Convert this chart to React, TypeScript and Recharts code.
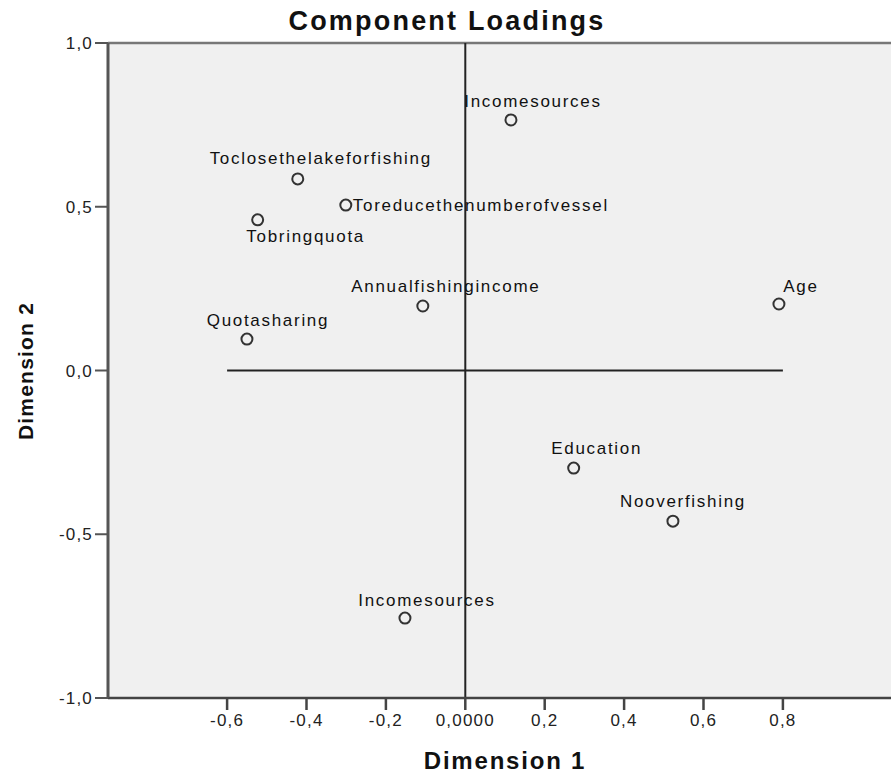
import React from 'react';
import { ScatterChart, Scatter, XAxis, YAxis, ReferenceLine, ReferenceArea } from 'recharts';

const variables = [
  'Incomesources',
  'Toclosethelakeforfishing',
  'Toreducethenumberofvessel',
  'Tobringquota',
  'Annualfishingincome',
  'Quotasharing',
  'Age',
  'Education',
  'Nooverfishing',
  'Incomesources',
];
const dimension1 = [0.115, -0.422, -0.301, -0.523, -0.107, -0.55, 0.79, 0.273, 0.523, -0.152];
const dimension2 = [0.765, 0.585, 0.505, 0.46, 0.197, 0.096, 0.203, -0.298, -0.46, -0.756];
const xTicks = [-0.6, -0.4, -0.2, 0, 0.2, 0.4, 0.6, 0.8];
const yTicks = [-1, -0.5, 0, 0.5, 1];

// label placement relative to each marker (styling only)
const labelPlacement = [
  { dx: 22, dy: -18, anchor: 'middle' },
  { dx: 23, dy: -20, anchor: 'middle' },
  { dx: 7, dy: 0, anchor: 'start' },
  { dx: 48, dy: 17, anchor: 'middle' },
  { dx: 23, dy: -19, anchor: 'middle' },
  { dx: 21, dy: -19, anchor: 'middle' },
  { dx: 22, dy: -18, anchor: 'middle' },
  { dx: 23, dy: -20, anchor: 'middle' },
  { dx: 10, dy: -20, anchor: 'middle' },
  { dx: 22, dy: -18, anchor: 'middle' },
];

const rows = variables.map((name, i) => ({
  name,
  x: dimension1[i],
  y: dimension2[i],
  place: labelPlacement[i],
}));

const FONT = "Arial, 'Liberation Sans', sans-serif";

const fmtX = (v: number) => (v === 0 ? '0,0000' : v.toFixed(1).replace('.', ','));
const fmtY = (v: number) => v.toFixed(1).replace('.', ',');

const PointShape = (props: any) => {
  const { cx, cy, payload } = props;
  if (cx == null || cy == null) return null;
  const p = payload.place;
  return (
    <g>
      <circle cx={cx} cy={cy} r={5.5} fill="none" stroke="#333" strokeWidth={2} />
      <text
        x={cx + p.dx}
        y={cy + p.dy}
        textAnchor={p.anchor}
        dominantBaseline="central"
        fontSize={17}
        fontFamily={FONT}
        letterSpacing={1.7}
        fill="#111"
      >
        {payload.name}
      </text>
    </g>
  );
};

export default function App() {
  return (
    <div style={{ position: 'absolute', left: 0, top: 0, width: 891, height: 773, overflow: 'hidden', background: '#fff' }}>
      <ScatterChart width={902} height={773} margin={{ top: 43, right: 0, bottom: 0, left: 0 }}>
        <ReferenceArea x1={-0.9} x2={1.1} y1={-1} y2={1} fill="#f0f0f0" fillOpacity={1} stroke="none" ifOverflow="visible" />
        <XAxis
          type="number"
          dataKey="x"
          domain={[-0.9, 1.1]}
          ticks={xTicks}
          tickFormatter={fmtX}
          allowDataOverflow
          height={75}
          tickSize={12}
          tickMargin={4}
          axisLine={{ stroke: '#444', strokeWidth: 2.5 }}
          tickLine={{ stroke: '#444', strokeWidth: 2.5 }}
          tick={{ fontSize: 17, fill: '#222', fontFamily: FONT, letterSpacing: 1.2 }}
        />
        <YAxis
          type="number"
          dataKey="y"
          domain={[-1, 1]}
          ticks={yTicks}
          tickFormatter={fmtY}
          allowDataOverflow
          width={108}
          tickSize={13}
          tickMargin={2}
          axisLine={{ stroke: '#555', strokeWidth: 3 }}
          tickLine={{ stroke: '#555', strokeWidth: 2 }}
          tick={{ fontSize: 17, fill: '#222', fontFamily: FONT, letterSpacing: 1.2 }}
        />
        <ReferenceLine y={1} stroke="#777" strokeWidth={2.5} ifOverflow="visible" />
        <ReferenceLine x={0} stroke="#222" strokeWidth={2} />
        <ReferenceLine segment={[{ x: -0.6, y: 0 }, { x: 0.8, y: 0 }]} stroke="#222" strokeWidth={2} />
        <Scatter data={rows} shape={PointShape} isAnimationActive={false} />
      </ScatterChart>
      <svg width={891} height={773} style={{ position: 'absolute', left: 0, top: 0, pointerEvents: 'none' }}>
        <text x={447} y={30} textAnchor="middle" fontSize={27} fontWeight="bold" fontFamily={FONT} letterSpacing={2.2} fill="#111">
          Component Loadings
        </text>
        <text x={505} y={769} textAnchor="middle" fontSize={24} fontWeight="bold" fontFamily={FONT} letterSpacing={1.8} fill="#111">
          Dimension 1
        </text>
        <text
          x={0}
          y={0}
          transform="translate(33,371) rotate(-90)"
          textAnchor="middle"
          fontSize={21}
          fontWeight="bold"
          fontFamily={FONT}
          letterSpacing={1.2}
          fill="#111"
        >
          Dimension 2
        </text>
      </svg>
    </div>
  );
}
